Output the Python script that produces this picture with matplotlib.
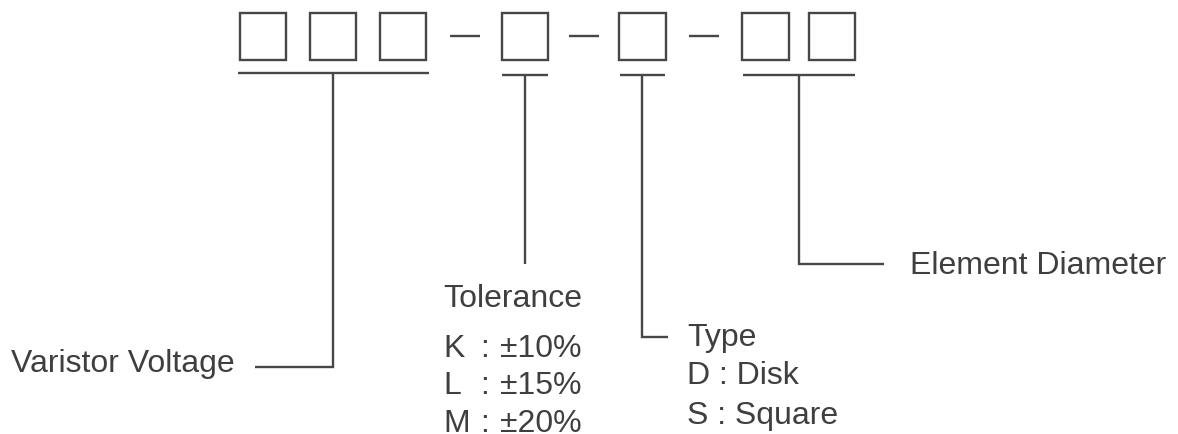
import matplotlib
matplotlib.use("Agg")
import matplotlib.pyplot as plt
from matplotlib.patches import Rectangle

plt.rcParams['font.family'] = ['Liberation Sans', 'DejaVu Sans']

# ---- content ----
field_labels = ["Varistor Voltage", "Tolerance", "Type", "Element Diameter"]
tolerance_codes = ["K", "L", "M"]
tolerance_values = ["±10%", "±15%", "±20%"]
type_codes = ["D", "S"]
type_names = ["Disk", "Square"]

# ---- layout (pixel coordinates) ----
W, H = 1178, 434
fig = plt.figure(figsize=(W / 100, H / 100), dpi=100)
ax = fig.add_axes([0, 0, 1, 1])
ax.set_xlim(0, W)
ax.set_ylim(H, 0)
ax.axis('off')

LC = '#474747'
TC = '#3f3f3f'
LW = 1.7
FS = 23

box_x = [239.5, 309.5, 379.5, 501.5, 619, 742, 808.5]
box_w, box_top, box_h = 46.5, 13, 46.5
for x in box_x:
    ax.add_patch(Rectangle((x, box_top), box_w, box_h, fill=False,
                           edgecolor=LC, lw=LW))

for x0, x1 in [(449.5, 480), (568.5, 598.5), (688.5, 719)]:
    ax.plot([x0, x1], [36, 36], color=LC, lw=LW, solid_capstyle='butt')

def line(xs, ys):
    ax.plot(xs, ys, color=LC, lw=LW, solid_capstyle='butt',
            solid_joinstyle='miter')

# Varistor voltage bracket
line([238, 429], [72.7, 72.7])
line([254.5, 333, 333], [366.7, 366.7, 72.7])
# Tolerance
line([502, 548], [75.3, 75.3])
line([524.5, 524.5], [75.3, 264])
# Type
line([619.5, 665], [75.3, 75.3])
line([642, 642, 668], [75.3, 336.7, 336.7])
# Element diameter
line([742.5, 854.5], [75.3, 75.3])
line([798.5, 798.5, 883.5], [75.3, 264, 264])

def txt(x, y, s):
    ax.text(x, y, s, fontsize=FS, color=TC, ha='left', va='baseline')

txt(11, 371.7, field_labels[0])
txt(443, 306.7, field_labels[1])
for i, (c, v) in enumerate(zip(tolerance_codes, tolerance_values)):
    yb = 356.7 + i * 37.6
    txt(443, yb, c)
    txt(480, yb, ":")
    txt(500, yb, v)
txt(687, 346, field_labels[2])
for i, (c, n) in enumerate(zip(type_codes, type_names)):
    txt(687, 384.3 + i * 39.5, f"{c} : {n}")
txt(910.5, 274, field_labels[3])

fig.savefig("out.png", dpi=100, facecolor='white')
